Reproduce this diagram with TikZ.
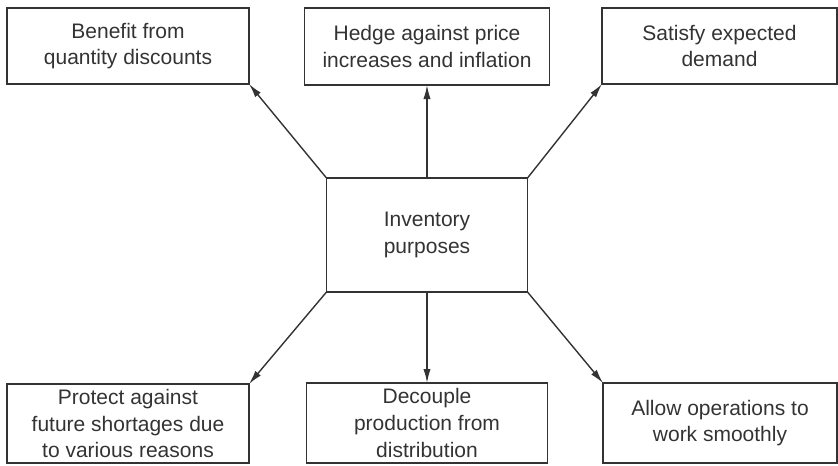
\documentclass[tikz,border=0pt]{standalone}
\usepackage{fontspec}
\setmainfont{Liberation Sans}
\usepackage{tikz}
\usetikzlibrary{arrows.meta}

\definecolor{inkgray}{HTML}{333333}

\tikzset{
    purpose/.style={draw=inkgray, line width=0.8pt, align=center, inner sep=0pt, outer sep=0pt,
        text=inkgray, font=\fontsize{10.5}{13.3}\selectfont},
    link/.style={draw=inkgray, line width=0.7pt, -{Latex[length=7pt,width=3.6pt]}}
}

\begin{document}
\begin{tikzpicture}[x=0.5pt, y=-0.5pt]
                    \useasboundingbox (0,0) rectangle (838,465);

                    % Centre box
                    \node[purpose, minimum width=100.5pt, minimum height=57pt] (inv) at (427,235) {Inventory\\purposes};

                    % Top row
                    \node[purpose, minimum width=121pt, minimum height=38pt] (benefit) at (128,46) {Benefit from\\quantity discounts};
                    \node[purpose, minimum width=122.5pt, minimum height=38.5pt] (hedge) at (427,46.5) {Hedge against price\\increases and inflation};
                    \node[purpose, minimum width=117.5pt, minimum height=38pt] (satisfy) at (719.5,46) {Satisfy expected\\demand};

                    % Bottom row
                    \node[purpose, minimum width=121pt, minimum height=39.5pt] (protect) at (128,423.5) {Protect against\\future shortages due\\to various reasons};
                    \node[purpose, minimum width=120.5pt, minimum height=40pt] (decouple) at (427,423) {Decouple\\production from\\distribution};
                    \node[purpose, minimum width=117pt, minimum height=40pt] (allow) at (720,423) {Allow operations to\\work smoothly};

                    % Arrows out of the centre box
                    \draw[link] (inv.north west) -- (benefit.south east);
                    \draw[link] (inv.north) -- (hedge.south);
                    \draw[link] (inv.north east) -- (satisfy.south west);
                    \draw[link] (inv.south west) -- (protect.north east);
                    \draw[link] (inv.south) -- (decouple.north);
                    \draw[link] (inv.south east) -- (allow.north west);
                \end{tikzpicture}
\end{document}
